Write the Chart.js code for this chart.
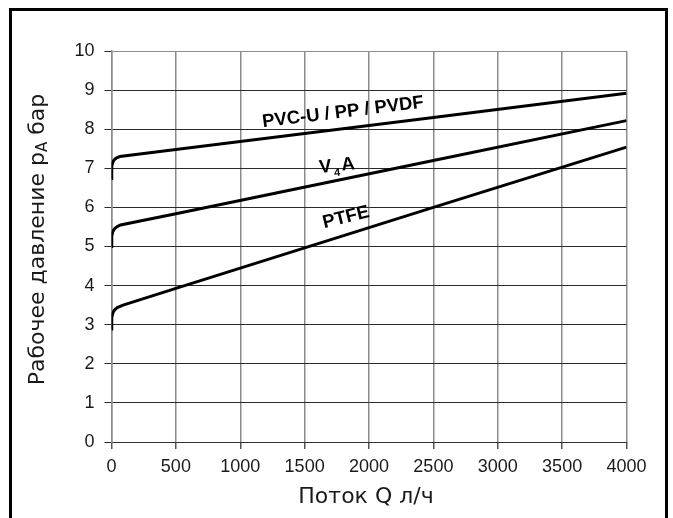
<!DOCTYPE html>
<html>
<head>
<meta charset="utf-8">
<script src="https://cdn.jsdelivr.net/npm/chart.js@4.4.1/dist/chart.umd.min.js"></script>
<style>
  html, body { margin: 0; padding: 0; background: #fff; overflow: hidden; }
  #wrap { position: relative; width: 673px; height: 518px; }
  #frame {
    position: absolute; left: 9px; top: 8px; width: 659px; height: 600px;
    box-sizing: border-box; border: 3px solid #000; border-bottom: none;
    pointer-events: none;
  }
  #chart { position: absolute; left: 0; top: 0; }
</style>
</head>
<body>
<div id="wrap">
  <canvas id="chart" width="673" height="518"></canvas>
  <div id="frame"></div>
</div>
<script>
// ===== DATA =====
const xTicks = [0, 500, 1000, 1500, 2000, 2500, 3000, 3500, 4000];
const yTicks = [0, 1, 2, 3, 4, 5, 6, 7, 8, 9, 10];

const pvcFlow = [0, 1, 3, 8, 15, 25, 40, 65, 500, 2500, 4000];
const pvcPressure = [6.74, 6.95, 7.05, 7.13, 7.19, 7.23, 7.27, 7.30, 7.48, 8.30, 8.92];

const v4aFlow = [0, 1, 3, 8, 15, 25, 45, 70, 500, 2500, 4000];
const v4aPressure = [5.0, 5.18, 5.27, 5.35, 5.41, 5.46, 5.51, 5.55, 5.84, 7.2, 8.22];

const ptfeFlow = [0, 1, 3, 8, 15, 25, 45, 90, 500, 2500, 4000];
const ptfePressure = [2.89, 3.08, 3.18, 3.27, 3.33, 3.38, 3.44, 3.5, 3.93, 6.0, 7.54];

const seriesNames = ["PVC-U / PP / PVDF", "V4A", "PTFE"];

function pairs(xs, ys) {
    return xs.map(function (x, i) { return { x: x, y: ys[i] }; });
}

// curve labels, placed in data units
const curveLabels = [
    { parts: [["PVC-U / PP / PVDF", false]], x: 1798, y: 8.43, angle: -7 },
    { parts: [["V", false], ["4", true], ["A", false]], x: 1751, y: 7.06, angle: -6 },
    { parts: [["PTFE", false]], x: 1821, y: 5.74, angle: -14 }
];

const labelPlugin = {
    id: "curveLabels",
    afterDatasetsDraw: function (chart) {
        const ctx = chart.ctx;
        const sx = chart.scales.x, sy = chart.scales.y;
        const bigBold = "bold 18.5px 'Liberation Sans', Arial";
        const smallBold = "bold 11px 'Liberation Sans', Arial";

        // curve labels
        curveLabels.forEach(function (lb) {
            const px = sx.getPixelForValue(lb.x);
            const py = sy.getPixelForValue(lb.y);
            ctx.save();
            ctx.translate(px, py);
            ctx.rotate(lb.angle * Math.PI / 180);
            ctx.fillStyle = "#000";
            ctx.textBaseline = "middle";
            ctx.textAlign = "left";
            let total = 0;
            lb.parts.forEach(function (p) {
                ctx.font = p[1] ? smallBold : bigBold;
                total += ctx.measureText(p[0]).width + (p[1] ? 4 : 0);
            });
            let cx = -total / 2;
            lb.parts.forEach(function (p) {
                if (p[1]) {
                    ctx.font = smallBold;
                    ctx.fillText(p[0], cx + 2, 7);
                    cx += ctx.measureText(p[0]).width + 4;
                } else {
                    ctx.font = bigBold;
                    ctx.fillText(p[0], cx, 0);
                    cx += ctx.measureText(p[0]).width;
                }
            });
            ctx.restore();
        });

        // axis titles
        const area = chart.chartArea;
        ctx.save();
        ctx.fillStyle = "#1a1a1a";
        ctx.font = "22px 'DejaVu Sans'";
        ctx.textAlign = "center";
        ctx.textBaseline = "middle";
        ctx.fillText("Поток Q л/ч", (area.left + area.right) / 2 - 3, 497);
        ctx.restore();

        ctx.save();
        ctx.fillStyle = "#1a1a1a";
        ctx.translate(38, (area.top + area.bottom) / 2 - 7);
        ctx.rotate(-Math.PI / 2);
        ctx.textBaseline = "middle";
        ctx.textAlign = "left";
        const big = "22px 'DejaVu Sans'", small = "15px 'DejaVu Sans'";
        const segs = [["Рабочее давление p", big, 0], ["A", small, 5], [" бар", big, 0]];
        let w = 0;
        segs.forEach(function (s) { ctx.font = s[1]; w += ctx.measureText(s[0]).width; });
        let cx = -w / 2;
        segs.forEach(function (s) {
            ctx.font = s[1];
            ctx.fillText(s[0], cx, s[2]);
            cx += ctx.measureText(s[0]).width;
        });
        ctx.restore();
    }
};

document.addEventListener("DOMContentLoaded", function () {
    const ctx = document.getElementById("chart").getContext("2d");
    const lineStyle = {
        borderColor: "#000",
        borderWidth: 3,
        pointRadius: 0,
        fill: false,
        showLine: true,
        tension: 0
    };
    new Chart(ctx, {
        type: "scatter",
        data: {
            datasets: [
                Object.assign({ label: seriesNames[0], data: pairs(pvcFlow, pvcPressure) }, lineStyle),
                Object.assign({ label: seriesNames[1], data: pairs(v4aFlow, v4aPressure) }, lineStyle),
                Object.assign({ label: seriesNames[2], data: pairs(ptfeFlow, ptfePressure) }, lineStyle)
            ]
        },
        options: {
            responsive: false,
            animation: false,
            layout: { padding: { left: 0, top: 51, right: 46.5, bottom: 0 } },
            plugins: {
                legend: { display: false },
                tooltip: { enabled: false }
            },
            scales: {
                x: {
                    type: "linear",
                    min: xTicks[0],
                    max: xTicks[xTicks.length - 1],
                    afterBuildTicks: function (s) { s.ticks = xTicks.map(function (v) { return { value: v }; }); },
                    afterFit: function (s) { s.height = 76; },
                    ticks: {
                        color: "#1a1a1a",
                        font: { family: "'Liberation Sans', Arial", size: 18 },
                        padding: 7,
                        maxRotation: 0,
                        callback: function (v) { return String(v); }
                    },
                    grid: { color: "#8c8c8c", lineWidth: 1.5, tickLength: 7, tickColor: "#555" },
                    border: { color: "#333", width: 1 }
                },
                y: {
                    min: yTicks[0],
                    max: yTicks[yTicks.length - 1],
                    afterBuildTicks: function (s) { s.ticks = yTicks.map(function (v) { return { value: v }; }); },
                    afterFit: function (s) { s.width = 111.5; },
                    ticks: {
                        color: "#1a1a1a",
                        font: { family: "'Liberation Sans', Arial", size: 18 },
                        padding: 10,
                        callback: function (v) { return String(v); }
                    },
                    grid: {
                        color: function (c) { return c.tick && c.tick.value === 10 ? "#8c8c8c" : "#2a2a2a"; },
                        lineWidth: 1,
                        tickLength: 7,
                        tickColor: "#2a2a2a"
                    },
                    border: { color: "#8c8c8c", width: 1.5 }
                }
            }
        },
        plugins: [labelPlugin]
    });
});
</script>
</body>
</html>
